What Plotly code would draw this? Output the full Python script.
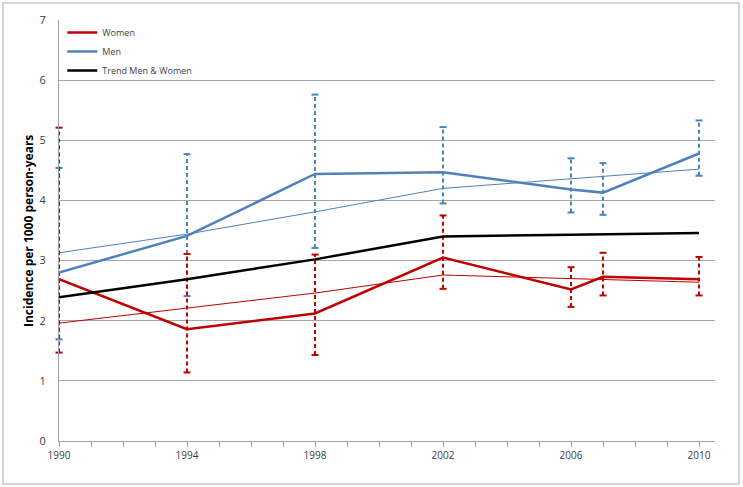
import plotly.graph_objects as go

years = [1990, 1994, 1998, 2002, 2006, 2007, 2010]

women = [2.69, 1.86, 2.12, 3.05, 2.52, 2.73, 2.69]
women_hi = [5.21, 3.11, 3.10, 3.75, 2.89, 3.13, 3.06]
women_lo = [1.47, 1.14, 1.43, 2.53, 2.23, 2.42, 2.42]
women_trend = [1.96, 2.21, 2.46, 2.76, 2.70, 2.68, 2.64]

men = [2.80, 3.41, 4.44, 4.47, 4.18, 4.13, 4.78]
men_hi = [4.54, 4.77, 5.76, 5.22, 4.70, 4.62, 5.33]
men_lo = [1.69, 2.41, 3.21, 3.95, 3.80, 3.76, 4.41]
men_trend = [3.13, 3.44, 3.81, 4.20, 4.36, 4.40, 4.52]

trend_all = [2.39, 2.69, 3.02, 3.40, 3.43, 3.44, 3.46]

x_labels = [1990, 1994, 1998, 2002, 2006, 2010]

RED = "#C00000"
BLUE = "#4F81BD"


def err_segments(xs, lo, hi):
    ex, ey = [], []
    for x, a, b in zip(xs, lo, hi):
        ex += [x, x, None]
        ey += [a, b, None]
    return ex, ey


fig = go.Figure()

# thin trend lines
fig.add_trace(go.Scatter(x=years, y=men_trend, mode="lines",
                         line=dict(color=BLUE, width=1), showlegend=False, hoverinfo="skip"))
fig.add_trace(go.Scatter(x=years, y=women_trend, mode="lines",
                         line=dict(color=RED, width=1), showlegend=False, hoverinfo="skip"))

# error bars (dashed)
ex, ey = err_segments(years, men_lo, men_hi)
fig.add_trace(go.Scatter(x=ex, y=ey, mode="lines+markers", cliponaxis=False,
                         line=dict(color=BLUE, width=2, dash="4px,3px"),
                         marker=dict(symbol="line-ew-open", size=5, line=dict(color=BLUE, width=2)),
                         showlegend=False, hoverinfo="skip"))
ex, ey = err_segments(years, women_lo, women_hi)
fig.add_trace(go.Scatter(x=ex, y=ey, mode="lines+markers", cliponaxis=False,
                         line=dict(color=RED, width=2, dash="4px,3px"),
                         marker=dict(symbol="line-ew-open", size=5, line=dict(color=RED, width=2)),
                         showlegend=False, hoverinfo="skip"))

# main series
fig.add_trace(go.Scatter(x=years, y=women, mode="lines", name="Women",
                         line=dict(color=RED, width=2.5)))
fig.add_trace(go.Scatter(x=years, y=men, mode="lines", name="Men",
                         line=dict(color=BLUE, width=2.5)))
fig.add_trace(go.Scatter(x=years, y=trend_all, mode="lines", name="Trend Men &amp; Women",
                         line=dict(color="black", width=2.5)))

fig.update_layout(
    width=743, height=487,
    margin=dict(l=59, r=28, t=20, b=46),
    paper_bgcolor="white", plot_bgcolor="white",
    font=dict(family="Open Sans, Liberation Sans, sans-serif", size=10, color="#404040"),
    showlegend=True,
    legend=dict(x=0.005, y=1.005, xanchor="left", yanchor="top",
                bgcolor="rgba(0,0,0,0)", font=dict(size=9, color="#404040"),
                itemwidth=30, tracegroupgap=4),
    xaxis=dict(range=[1990, 2010.5], tickvals=x_labels, ticktext=[str(v) for v in x_labels],
               showgrid=False, zeroline=False, showline=True, linecolor="#A0A0A0", linewidth=1,
               ticks="outside", ticklen=5, tickcolor="#A0A0A0", automargin=False,
               minor=dict(dtick=1, tick0=1990, ticks="outside", ticklen=5, tickcolor="#A0A0A0", showgrid=False),
               tickfont=dict(size=10, color="#404040")),
    yaxis=dict(range=[0, 7], dtick=1, showgrid=True, gridcolor="#A6A6A6", gridwidth=1,
               zeroline=False, showline=True, linecolor="#A0A0A0", linewidth=1,
               ticks="", ticklabelstandoff=10, automargin=False,
               tickfont=dict(size=11, color="#404040")),
    annotations=[dict(text="<b>Incidence per 1000 person-years</b>", textangle=-90,
                      xref="paper", yref="paper", x=-0.0465, y=0.5,
                      xanchor="center", yanchor="middle", showarrow=False,
                      font=dict(size=12, color="black"))],
    shapes=[dict(type="rect", xref="paper", yref="paper",
                 x0=-0.0854, x1=1.0366, y0=-0.102, y1=1.0404,
                 line=dict(color="#C8C8C8", width=1.5), layer="below")],
)

fig.write_html("out.html", config={"displayModeBar": False},
               post_script="document.body.style.margin='0';document.body.style.overflow='hidden';")
